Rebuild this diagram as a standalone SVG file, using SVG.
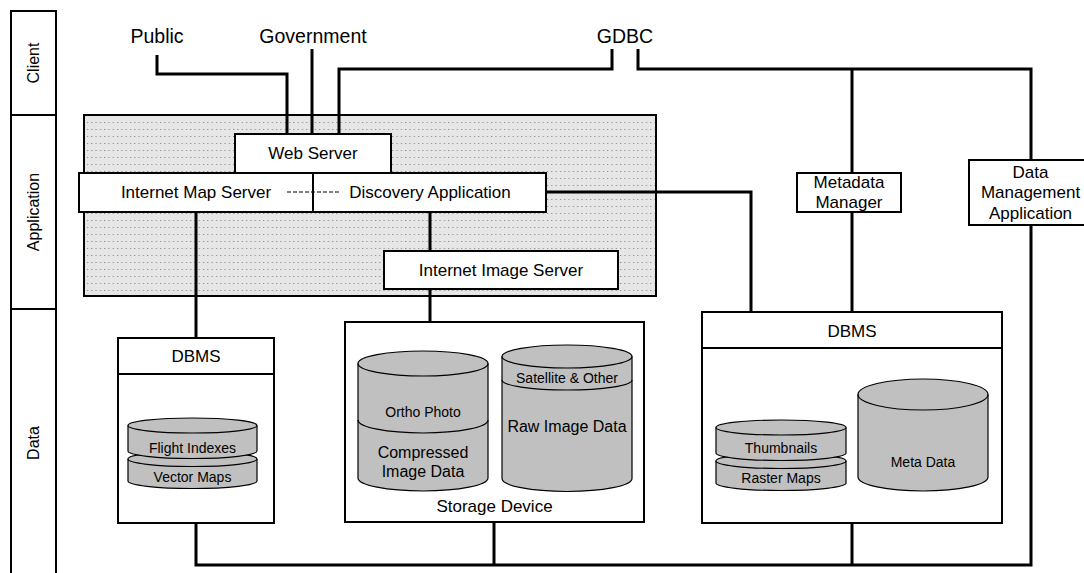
<svg xmlns="http://www.w3.org/2000/svg" width="1084" height="573" viewBox="0 0 1084 573">
<defs>
<pattern id="dots" x="0" y="0" width="4.3" height="7" patternUnits="userSpaceOnUse">
<rect width="4.3" height="7" fill="#e6e6e6"/>
<rect x="1" y="3" width="1" height="1" fill="#7a7a7a"/>
</pattern>
</defs>
<style>
text{font-family:"Liberation Sans",Arial,sans-serif;fill:#000;text-anchor:middle;dominant-baseline:central}
.box{fill:#fff;stroke:#000;stroke-width:2}
.lane{fill:none;stroke:#000;stroke-width:2}
.conn{fill:none;stroke:#000;stroke-width:3}
.cyl{fill:#c0c0c0;stroke:#000;stroke-width:1.2}
.cl{fill:none;stroke:#000;stroke-width:1.2}
.t20{font-size:19.5px}
.t17{font-size:17px}
.t16{font-size:16px}
.t14{font-size:14px}
</style>

<g id="lanes">
<path class="lane" d="M11,573 V11 H56 V573"/>
<line class="lane" x1="11" y1="115" x2="56" y2="115"/>
<line class="lane" x1="11" y1="309" x2="56" y2="309"/>
<text class="t16" transform="translate(33.5,63) rotate(-90)">Client</text>
<text class="t16" transform="translate(33.5,212) rotate(-90)">Application</text>
<text class="t16" transform="translate(33.5,443) rotate(-90)">Data</text>
</g>

<g id="app-area">
<rect x="84" y="115" width="572" height="181" fill="url(#dots)" stroke="#000" stroke-width="2"/>
</g>

<g id="connectors">
<path class="conn" d="M157,55 V74 H287 V134"/>
<path class="conn" d="M312,49 V134"/>
<path class="conn" d="M339,134 V69 H612 V49"/>
<path class="conn" d="M638,49 V69 H1031 V160"/>
<path class="conn" d="M852,69 V173"/>
<path class="conn" d="M852,212 V312"/>
<path class="conn" d="M546,192 H751 V312"/>
<path class="conn" d="M196,212 V338"/>
<path class="conn" d="M430,212 V251"/>
<path class="conn" d="M430,289 V322"/>
<path class="conn" d="M196,523 V565 H1031 V225"/>
<path class="conn" d="M494,522 V565"/>
<path class="conn" d="M852,523 V565"/>
</g>

<g id="labels-client">
<text class="t20" x="157" y="36">Public</text>
<text class="t20" x="313" y="36">Government</text>
<text class="t20" x="625" y="36">GDBC</text>
</g>

<g id="web-server">
<rect class="box" x="235" y="134" width="156" height="39"/>
<text class="t17" x="313" y="153.5">Web Server</text>
</g>

<g id="map-discovery">
<rect class="box" x="79" y="173" width="467" height="39"/>
<line x1="313" y1="173" x2="313" y2="212" stroke="#000" stroke-width="2"/>
<line x1="287" y1="192" x2="339" y2="192" stroke="#000" stroke-width="1.2" stroke-dasharray="4,2"/>
<text class="t17" x="196" y="192">Internet Map Server</text>
<text class="t17" x="430" y="192">Discovery Application</text>
</g>

<g id="image-server">
<rect class="box" x="384" y="251" width="234" height="38"/>
<text class="t17" x="501" y="270">Internet Image Server</text>
</g>

<g id="metadata-manager">
<rect class="box" x="797" y="173" width="104" height="39"/>
<text class="t17" x="849" y="182">Metadata</text>
<text class="t17" x="849" y="202">Manager</text>
</g>

<g id="data-mgmt-app">
<rect class="box" x="969" y="160" width="118" height="65"/>
<text class="t17" x="1030.5" y="172">Data</text>
<text class="t17" x="1030.5" y="192.5">Management</text>
<text class="t17" x="1030.5" y="213">Application</text>
</g>

<g id="dbms-left">
<rect class="box" x="118" y="338" width="156" height="185"/>
<line x1="118" y1="374" x2="274" y2="374" stroke="#000" stroke-width="2"/>
<text class="t17" x="196" y="356">DBMS</text>
<path class="cyl" d="M128,459 V481 A64.5,7.5 0 0 0 257,481 V459 A64.5,7.5 0 0 0 128,459 Z"/>
<path class="cl" d="M128,459 A64.5,7.5 0 0 0 257,459"/>
<path class="cyl" d="M128,425.5 V451 A64.5,7.5 0 0 0 257,451 V425.5 A64.5,7.5 0 0 0 128,425.5 Z"/>
<path class="cl" d="M128,425.5 A64.5,7.5 0 0 0 257,425.5"/>
<text class="t14" x="192.5" y="448">Flight Indexes</text>
<text class="t14" x="192.5" y="477">Vector Maps</text>
</g>

<g id="storage-device">
<rect class="box" x="345" y="322" width="299" height="200"/>
<text class="t17" x="494.5" y="506">Storage Device</text>
<path class="cyl" d="M358,363.5 V478 A65,13 0 0 0 488,478 V363.5 A65,12.5 0 0 0 358,363.5 Z"/>
<path class="cl" d="M358,363.5 A65,12.5 0 0 0 488,363.5"/>
<path class="cl" d="M358,420 A65,13 0 0 0 488,420"/>
<text class="t14" x="423" y="412">Ortho Photo</text>
<text class="t16" x="423" y="452">Compressed</text>
<text class="t16" x="423" y="471">Image Data</text>
<path class="cyl" d="M502,356.5 V478.5 A65,13 0 0 0 632,478.5 V356.5 A65,11.5 0 0 0 502,356.5 Z"/>
<path class="cl" d="M502,356.5 A65,11.5 0 0 0 632,356.5"/>
<path class="cl" d="M502,380 A65,10 0 0 0 632,380"/>
<text class="t14" x="567" y="378">Satellite &amp; Other</text>
<text class="t16" x="567" y="426">Raw Image Data</text>
</g>

<g id="dbms-right">
<rect class="box" x="702" y="312" width="300" height="211"/>
<line x1="702" y1="348" x2="1002" y2="348" stroke="#000" stroke-width="2"/>
<text class="t17" x="852" y="331">DBMS</text>
<path class="cyl" d="M716,461 V483 A65,7.5 0 0 0 846,483 V461 A65,7.5 0 0 0 716,461 Z"/>
<path class="cl" d="M716,461 A65,7.5 0 0 0 846,461"/>
<path class="cyl" d="M716,427.5 V453 A65,7.5 0 0 0 846,453 V427.5 A65,7.5 0 0 0 716,427.5 Z"/>
<path class="cl" d="M716,427.5 A65,7.5 0 0 0 846,427.5"/>
<text class="t14" x="781" y="448">Thumbnails</text>
<text class="t14" x="781" y="478">Raster Maps</text>
<path class="cyl" d="M858,394.5 V477 A65,14 0 0 0 988,477 V394.5 A65,15.5 0 0 0 858,394.5 Z"/>
<path class="cl" d="M858,394.5 A65,15.5 0 0 0 988,394.5"/>
<text class="t14" x="923" y="462">Meta Data</text>
</g>
</svg>
